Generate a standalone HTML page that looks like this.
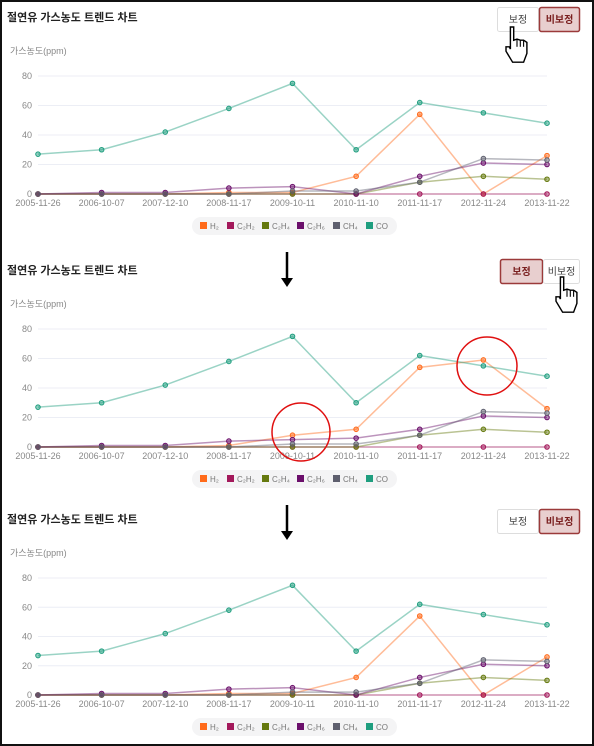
<!DOCTYPE html>
<html><head><meta charset="utf-8">
<style>
html,body{margin:0;padding:0;background:#fff;}
#wrap{position:relative;width:590px;height:742px;border:2px solid #111;overflow:hidden;}
svg{position:absolute;left:-2px;top:-2px;}
text{font-family:"Liberation Sans","Noto Sans CJK KR",sans-serif;}
</style></head>
<body>
<div id="wrap">
<svg id="svg" width="594" height="746" xmlns="http://www.w3.org/2000/svg"></svg>
</div>
<script>
const categories=["2005-11-26","2006-10-07","2007-12-10","2008-11-17","2009-10-11","2010-11-10","2011-11-17","2012-11-24","2013-11-22"];
const seriesNames=["H₂","C₂H₂","C₂H₄","C₂H₆","CH₄","CO"];
const seriesKeys=["h2","c2h2","c2h4","c2h6","ch4","co"];
const colors=["#ff6a1a","#a3195b","#667a0f","#6b0f6b","#5e5f6e","#1f9e7f"];
const yTicks=[0,20,40,60,80];
// raw (비보정)
const rawH2=[0,0,0,1,1,12,54,0,26];
const rawC2H2=[0,0,0,0,0,0,0,0,0];
const rawC2H4=[0,0,0,0,0,0,8,12,10];
const rawC2H6=[0,1,1,4,5,0,12,21,20];
const rawCH4=[0,0,0,0,2,2,8,24,23];
const rawCO=[27,30,42,58,75,30,62,55,48];
// corrected (보정)
const corH2=[0,0,0,1,8,12,54,59,26];
const corC2H2=[0,0,0,0,0,0,0,0,0];
const corC2H4=[0,0,0,0,0,0,8,12,10];
const corC2H6=[0,1,1,4,5,6,12,21,20];
const corCH4=[0,0,0,0,2,2,8,24,23];
const corCO=[27,30,42,58,75,30,62,55,48];

const NS="http://www.w3.org/2000/svg";
const svg=document.getElementById('svg');
function mk(tag,attrs,parent,txt){const e=document.createElementNS(NS,tag);for(const k in attrs)e.setAttribute(k,attrs[k]);if(txt!==undefined)e.textContent=txt;(parent||svg).appendChild(e);return e;}

const panels=[
 {top:0,active:1,data:[rawH2,rawC2H2,rawC2H4,rawC2H6,rawCH4,rawCO],y80:76,y0:194,name:'chart-uncorrected-top'},
 {top:253,active:0,data:[corH2,corC2H2,corC2H4,corC2H6,corCH4,corCO],y80:329,y0:447,name:'chart-corrected'},
 {top:502,active:1,data:[rawH2,rawC2H2,rawC2H4,rawC2H6,rawCH4,rawCO],y80:578,y0:695,name:'chart-uncorrected-bottom'}
];
const x0=38,x1=547;
function xs(i){return x0+(x1-x0)*i/(categories.length-1);}

panels.forEach((p,pi)=>{
 const g=mk('g',{});
 
 
 const T=p.top;
 const ys=v=>p.y0-(p.y0-p.y80)*v/80;
 const t=mk('text',{x:7,y:T+21,'font-size':11,fill:'#222','font-weight':'bold'},g,'절연유 가스농도 트렌드 차트');
 
 
 const bx=p.active===1?[497,539,580]:[500,543,580];
 const by=T+(p.active===1?7:6);
 ['보정','비보정'].forEach((lab,bi)=>{
  const act=bi===p.active;
  const b=mk('g',{},g);
  
  
  mk('rect',{x:bx[bi]+0.5,y:by+0.5,width:bx[bi+1]-bx[bi]-1,height:24,rx:2,fill:act?'#e8cfcf':'#fff',stroke:act?'#9b3a3a':'#ddd','stroke-width':act?1.5:1},b);
  mk('text',{x:(bx[bi]+bx[bi+1])/2,y:by+16,'font-size':10,'text-anchor':'middle',fill:act?'#7a1f1f':'#444','font-weight':act?'bold':'normal'},b,lab);
 });
 const at=mk('text',{x:10,y:ys(80)-22,'font-size':9,fill:'#888'},g,'가스농도(ppm)');
 
 
 yTicks.forEach(v=>{
  mk('line',{x1:x0,x2:x1,y1:ys(v),y2:ys(v),stroke:'#eceef5','stroke-width':1},g);
  const tl=mk('text',{x:32,y:ys(v)+3,'font-size':9,fill:'#888','text-anchor':'end'},g,String(v));
  
  
 });
 categories.forEach((c,i)=>{
  const xl=mk('text',{x:xs(i),y:p.y0+12,'font-size':9,fill:'#888','text-anchor':'middle'},g,c);
  
  
 });
 p.data.forEach((arr,si)=>{
  const sg=mk('g',{},g);
  
  
  mk('polyline',{points:arr.map((v,i)=>xs(i)+','+ys(v)).join(' '),fill:'none',stroke:colors[si],'stroke-opacity':0.45,'stroke-width':1.5},sg);
  arr.forEach((v,i)=>{
   const c=mk('circle',{cx:xs(i),cy:ys(v),r:2.3,fill:colors[si],'fill-opacity':0.5,stroke:colors[si],'stroke-width':1},sg);
   
   
  });
 });
 const lg=mk('g',{},g);
 
 
 const ly=p.y0+32;
 mk('rect',{x:192,y:ly-9,width:205,height:18,rx:9,fill:'#f4f4f5'},lg);
 const lx=[200,227,262,297,333,366];
 seriesNames.forEach((n,si)=>{
  const e=mk('g',{},lg);
  
  
  mk('rect',{x:lx[si],y:ly-4,width:7,height:7,fill:colors[si]},e);
  mk('text',{x:lx[si]+10,y:ly+3,'font-size':8,fill:'#777'},e,n);
 });
});
[[252,287],[505,540]].forEach(a=>{
 const g=mk('g',{});
 
 
 mk('line',{x1:287,x2:287,y1:a[0],y2:a[1]-7,stroke:'#000','stroke-width':2.5},g);
 mk('polygon',{points:`281,${a[1]-9} 293,${a[1]-9} 287,${a[1]}`,fill:'#000'},g);
});
[[301,432,29,29],[487,366,30,29]].forEach(c=>{
 const e=mk('ellipse',{cx:c[0],cy:c[1],rx:c[2],ry:c[3],fill:'none',stroke:'#e01010','stroke-width':1.5});
 
 
});
function hand(x,y){
 const g=mk('g',{transform:`translate(${x},${y}) scale(1.1)`});
 
 
 mk('path',{d:'M4,0 L7,0 L7,12 L10,11 L13,12 L16,12 L19,14 L19,24 L16,32 L6,32 L0,22 L0,18 L3,18 L4,20 Z',fill:'#fff',stroke:'#000','stroke-width':1.3},g);
 mk('line',{x1:10,y1:11,x2:10,y2:18,stroke:'#000','stroke-width':1},g);
 mk('line',{x1:13,y1:12,x2:13,y2:18,stroke:'#000','stroke-width':1},g);
 mk('line',{x1:16,y1:12,x2:16,y2:18,stroke:'#000','stroke-width':1},g);
}
hand(506,27);
hand(556,277);
</script>
</body></html>
